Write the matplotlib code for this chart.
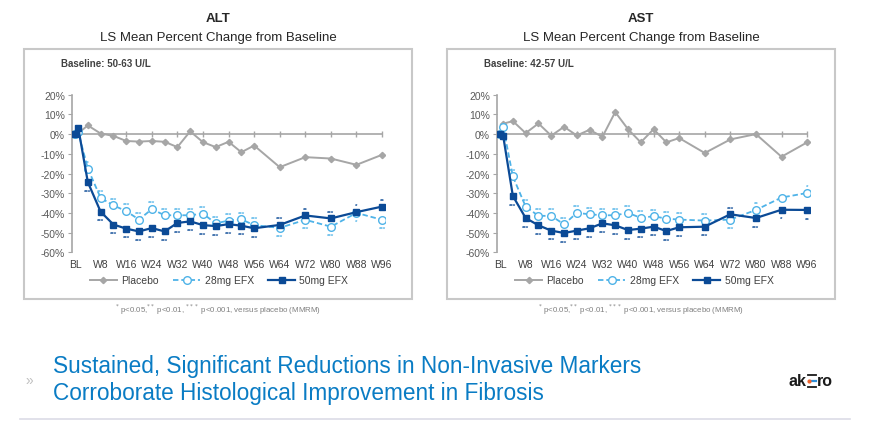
import matplotlib
matplotlib.use("Agg")
import matplotlib.pyplot as plt
from matplotlib.patches import Rectangle
from matplotlib.lines import Line2D

plt.rcParams["font.family"] = ["Liberation Sans", "DejaVu Sans"]

# ---- data ----
weeks = [0, 1, 4, 8, 12, 16, 20, 24, 28, 32, 36, 40, 44, 48, 52, 56, 64, 72, 80, 88, 96]
tick_weeks = [0, 8, 16, 24, 32, 40, 48, 56, 64, 72, 80, 88, 96]
tick_labels = ["BL", "W8", "W16", "W24", "W32", "W40", "W48", "W56", "W64", "W72", "W80", "W88", "W96"]
y_ticks = [20, 10, 0, -10, -20, -30, -40, -50, -60]

alt_placebo = [0, 0.5, 4.4, 0.3, -0.9, -3.5, -3.8, -3.5, -3.9, -6.6, 1.4, -4.1, -6.6, -3.9, -9.2, -5.8,
               -16.8, -11.7, -12.4, -15.6, -10.5]
alt_28mg = [0, 1.0, -17.5, -32.4, -36.2, -39.1, -43.4, -38.1, -41.2, -41.2, -41.2, -40.4, -45.3, -43.9, -43.3,
            -46.2, -47.6, -43.5, -47.0, -40.0, -43.5]
alt_50mg = [0, 3.2, -24.4, -39.4, -45.9, -48.0, -49.4, -47.7, -49.4, -45.1, -44.3, -46.2, -46.7, -45.7, -46.5,
            -47.8, -46.1, -41.3, -42.8, -39.6, -36.8]

ast_placebo = [0, 5.3, 6.6, 0.5, 5.4, -0.8, 3.7, -0.7, 2.2, -1.4, 11.2, 2.5, -4.2, 2.5, -4.2, -2.0,
               -9.6, -2.7, 0.0, -11.5, -4.2]
ast_28mg = [0, 3.5, -21.5, -36.8, -41.5, -41.5, -45.8, -40.0, -40.7, -41.2, -41.2, -40.0, -42.5, -41.7, -42.9,
            -43.4, -43.9, -43.4, -38.5, -32.2, -29.9]
ast_50mg = [0, -1.2, -31.4, -42.6, -46.3, -49.0, -50.2, -49.0, -47.8, -45.3, -46.3, -48.7, -48.0, -47.0, -49.2,
            -47.3, -47.0, -40.7, -42.6, -38.4, -38.5]

alt_28mg_stars = ["", "", "**"] + ["***"] * 16 + ["*", "***"]
alt_50mg_stars = ["", "", "***"] + ["***"] * 14 + ["**", "***", "*", "**"]
ast_28mg_stars = ["", "", "***"] + ["***"] * 15 + ["**", "", "*"]
ast_50mg_stars = ["", "", "***"] + ["***"] * 15 + ["***", "*", "**"]

GRAY = "#a6a6a6"
LIGHT = "#4fb3e8"
DARK = "#0b4a96"
TEXT = "#595959"


def draw_panel(ax, placebo, low, high, low_stars, high_stars):
    ax.plot(tick_weeks, [0] * len(tick_weeks), color=GRAY, lw=1.2, marker="|", ms=5, mew=1.0, zorder=1)
    ax.plot(weeks, placebo, color=GRAY, lw=1.4, marker="D", ms=3.2, zorder=2)
    ax.plot(weeks, low, color=LIGHT, lw=1.3, ls=(0, (3, 1.6)), marker="o", ms=5.5,
            mfc="white", mec=LIGHT, mew=1.0, zorder=3)
    ax.plot(weeks, high, color=DARK, lw=1.6, marker="s", ms=4, zorder=4)

    # significance marks: the upper series gets them above, the lower one below
    for w, a, b, sa, sb in zip(weeks, low, high, low_stars, high_stars):
        a_up = a > b
        for val, s, col, up in ((a, sa, LIGHT, a_up), (b, sb, DARK, not a_up)):
            if not s:
                continue
            ax.annotate(s, (w, val), xytext=(0, 4.5 if up else -6.5), textcoords="offset points",
                        ha="center", va="center", fontsize=4.5, color=col, fontweight="bold")

    ax.set_xlim(-1, 97)
    ax.set_ylim(-60, 20)
    ax.set_yticks(y_ticks)
    ax.set_yticklabels([f"{v}%" for v in y_ticks])
    ax.set_xticks(tick_weeks)
    ax.set_xticklabels(tick_labels)
    ax.tick_params(axis="x", length=0, pad=5, labelsize=7.5, labelcolor="#404040")
    ax.tick_params(axis="y", length=3, color=GRAY, pad=2, labelsize=7.5, labelcolor=TEXT)
    for side in ("top", "right", "bottom"):
        ax.spines[side].set_visible(False)
    ax.spines["left"].set_color(GRAY)
    ax.spines["left"].set_linewidth(1.2)

    handles = [
        Line2D([], [], color=GRAY, lw=1.4, marker="D", ms=3.2),
        Line2D([], [], color=LIGHT, lw=1.3, ls=(0, (3, 1.6)), marker="o", ms=5.5, mfc="white", mec=LIGHT),
        Line2D([], [], color=DARK, lw=1.6, marker="s", ms=4),
    ]
    leg = ax.legend(handles, ["Placebo", "28mg EFX", "50mg EFX"], loc="center", bbox_to_anchor=(0.47, -0.178),
                    ncol=3, frameon=False, fontsize=7.5, handlelength=2.6, columnspacing=1.4, handletextpad=0.4)
    for t in leg.get_texts():
        t.set_color("#404040")


fig = plt.figure(figsize=(8.74, 4.35), dpi=100)

panels = [
    ("ALT", "Baseline: 50-63 U/L", 0.0275, 0.0822, alt_placebo, alt_28mg, alt_50mg, alt_28mg_stars, alt_50mg_stars),
    ("AST", "Baseline: 42-57 U/L", 0.5114, 0.5685, ast_placebo, ast_28mg, ast_50mg, ast_28mg_stars, ast_50mg_stars),
]
for name, base, box_x, ax_x, pl, lo, hi, lo_s, hi_s in panels:
    fig.patches.append(Rectangle((box_x, 0.3103), 0.444, 0.5747, transform=fig.transFigure,
                                 fill=False, edgecolor="#c8c8c8", lw=1.5))
    cx = box_x + 0.222
    fig.text(cx, 0.957, name, ha="center", va="center", fontsize=9.5, fontweight="bold", color="#262626")
    fig.text(cx, 0.913, "LS Mean Percent Change from Baseline", ha="center", va="center", fontsize=9.5,
             color="#262626")
    fig.text(box_x + 0.042, 0.853, base, ha="left", va="center", fontsize=7, fontweight="bold", color="#404040")
    fig.text(cx, 0.287, r"$^{*}$ p<0.05,$^{**}$ p<0.01, $^{***}$ p<0.001, versus placebo (MMRM)",
             ha="center", va="center", fontsize=5.7, color="#7f7f7f")
    ax = fig.add_axes([ax_x, 0.4177, 0.3586, 0.3623])
    ax.patch.set_alpha(0)
    draw_panel(ax, pl, lo, hi, lo_s, hi_s)

# headline
fig.text(0.061, 0.126, "Sustained, Significant Reductions in Non-Invasive Markers\n"
                       "Corroborate Histological Improvement in Fibrosis",
         ha="left", va="center", fontsize=16.3, color="#0a7cc4", linespacing=1.2)
fig.text(0.034, 0.124, "\u00bb", ha="center", va="center", fontsize=10, color="#c0c0c0")

# logo
fig.text(0.923, 0.122, "ak", ha="right", va="center", fontsize=11.5, fontweight="bold", color="#1a1a1a")
fig.text(0.935, 0.122, "ro", ha="left", va="center", fontsize=11.5, fontweight="bold", color="#1a1a1a")
fig.add_artist(Line2D([0.9245, 0.9335], [0.135, 0.135], color="#1a1a1a", lw=1.3, transform=fig.transFigure))
fig.add_artist(Line2D([0.9245, 0.9335], [0.109, 0.109], color="#1a1a1a", lw=1.3, transform=fig.transFigure))
fig.add_artist(Line2D([0.9275, 0.9335], [0.122, 0.122], color="#2f8fd8", lw=1.6, transform=fig.transFigure))
fig.add_artist(Line2D([0.9252], [0.122], marker="o", ms=2.0, color="#f0642d", transform=fig.transFigure))

# bottom rule
fig.add_artist(Line2D([0.023, 0.972], [0.034, 0.034], color="#dcdce6", lw=1.2, transform=fig.transFigure))

fig.savefig("out.png", dpi=100)
